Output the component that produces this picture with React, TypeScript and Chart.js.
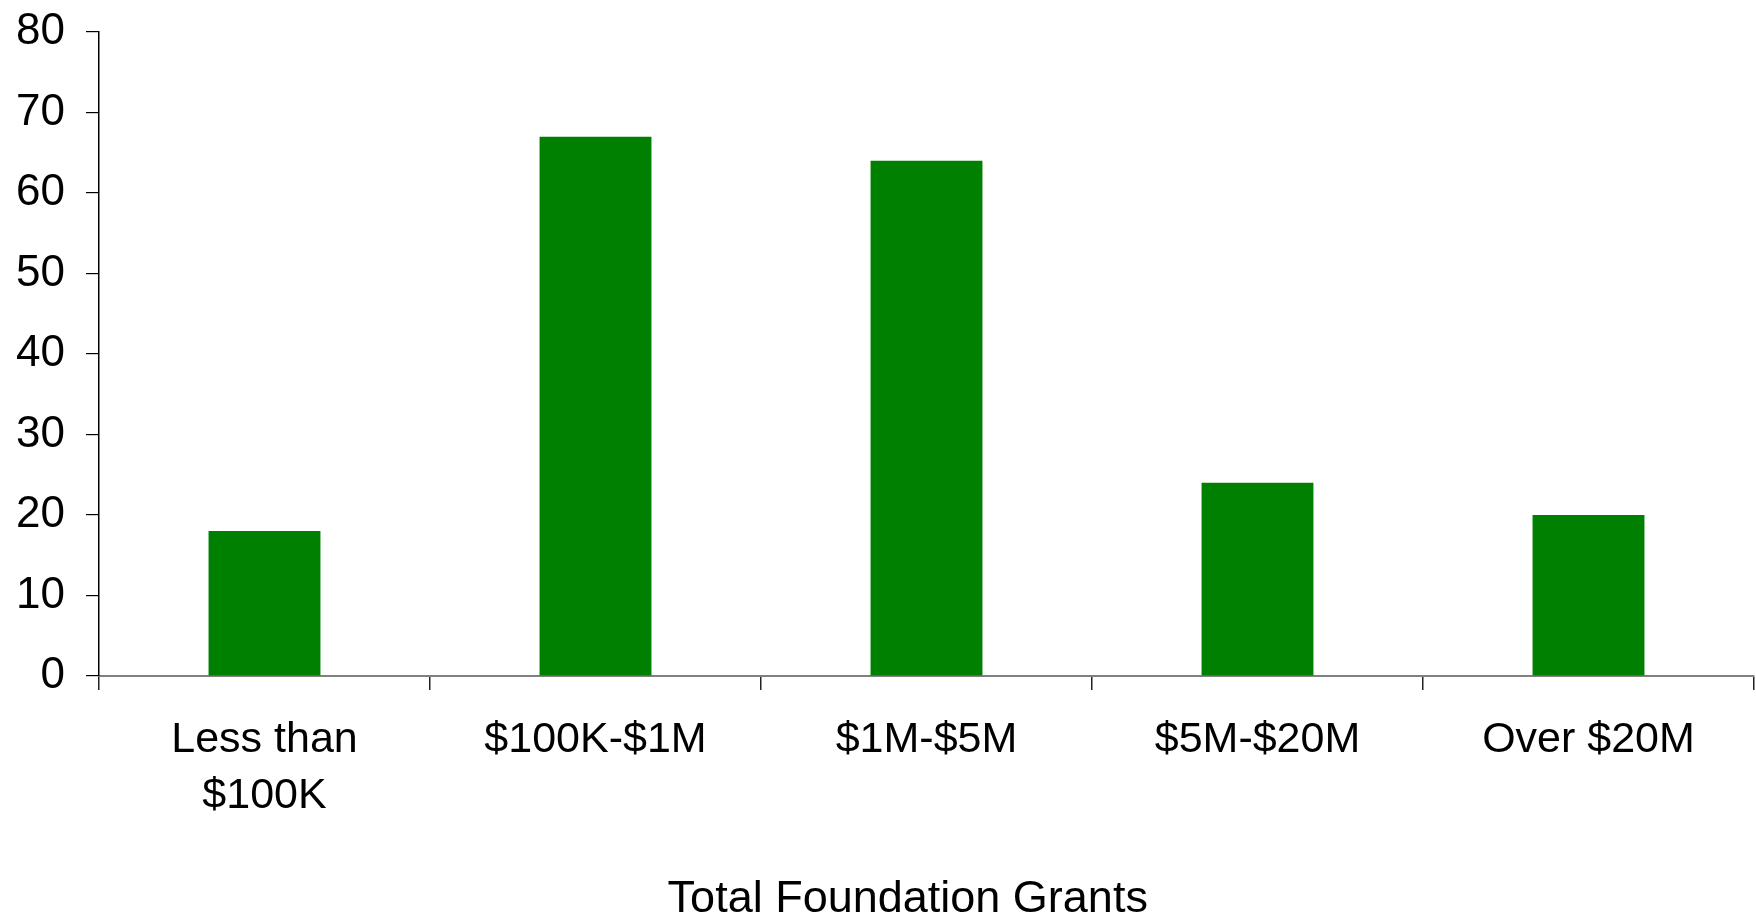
import React, { useEffect, useRef } from "react";
import { Chart, registerables } from "chart.js";

Chart.register(...registerables);

const categories: (string | string[])[] = [
  ["Less than", "$100K"],
  "$100K-$1M",
  "$1M-$5M",
  "$5M-$20M",
  "Over $20M",
];
const values: number[] = [18, 67, 64, 24, 20];
const xAxisTitle = "Total Foundation Grants\u00a0\u00a0\u00a0";
const yMin = 0;
const yMax = 80;
const yStep = 10;

export default function App() {
  const ref = useRef<HTMLCanvasElement | null>(null);
  useEffect(() => {
    document.body.style.margin = "0";
    const canvas = ref.current!;
    const chart = new Chart(canvas, {
      type: "bar",
      data: {
        labels: categories,
        datasets: [
          {
            data: values,
            backgroundColor: "#008000",
            borderWidth: 0,
            barPercentage: 0.338,
            categoryPercentage: 1,
          },
        ],
      },
      options: {
        animation: false,
        responsive: false,
        layout: { padding: { top: 32, right: 2, left: 0, bottom: 0 } },
        plugins: { legend: { display: false }, tooltip: { enabled: false } },
        scales: {
          x: {
            offset: true,
            border: { display: true, color: "#808080", width: 2 },
            grid: {
              display: true,
              offset: true,
              drawOnChartArea: false,
              drawTicks: true,
              tickLength: 14,
              color: "#222222",
              lineWidth: 1.5,
            },
            ticks: {
              color: "#000",
              font: { family: "Liberation Sans", size: 43, lineHeight: 1.3 },
              padding: 22,
              maxRotation: 0,
              autoSkip: false,
            },
            title: {
              display: true,
              text: xAxisTitle,
              color: "#000",
              font: { family: "Liberation Sans", size: 45 },
              padding: { top: 40, bottom: -6 },
            },
            afterFit: (s: any) => {
              s.height = 921 - 676;
            },
          },
          y: {
            min: yMin,
            max: yMax,
            border: { display: true, color: "#000", width: 1.5 },
            grid: {
              display: true,
              drawOnChartArea: false,
              drawTicks: true,
              tickLength: 13,
              color: "#000",
              lineWidth: 1.2,
            },
            ticks: {
              stepSize: yStep,
              color: "#000",
              font: { family: "Liberation Sans", size: 44 },
              padding: 21,
            },
            afterFit: (s: any) => {
              s.width = 99;
              s.paddingTop = 0;
              s.paddingBottom = 0;
            },
          },
        },
      },
    });
    return () => chart.destroy();
  }, []);
  return <canvas ref={ref} width={1756} height={921} style={{ display: "block" }} />;
}
